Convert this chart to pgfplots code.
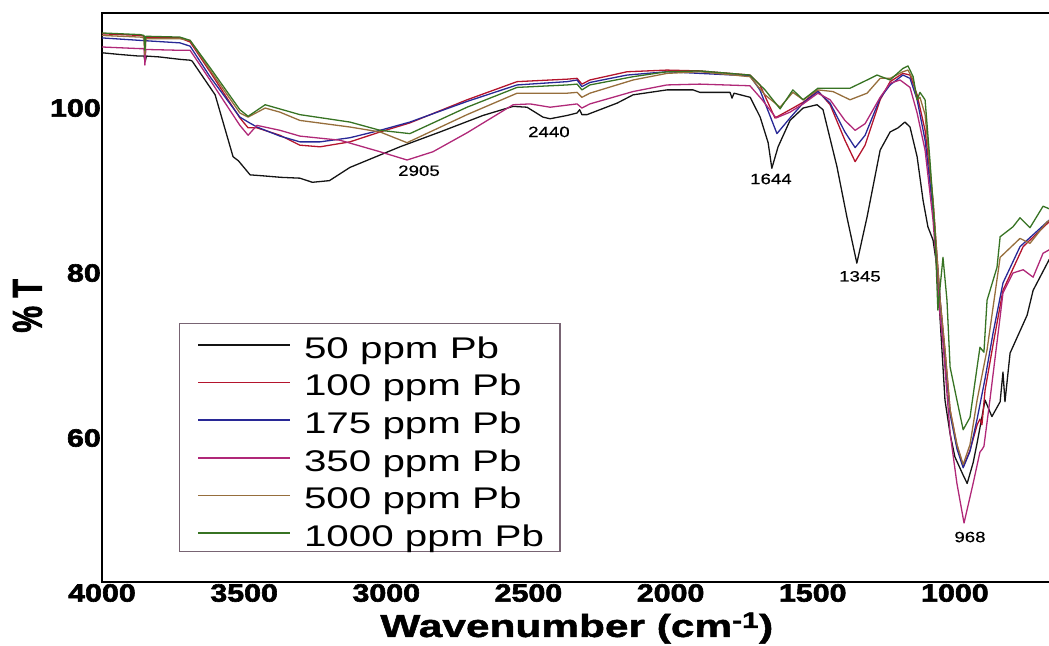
\documentclass[border=0pt]{standalone}
\usepackage{fontspec}
\setmainfont{Liberation Sans}
\newfontfamily\tickfont[FakeStretch=1.22, BoldFeatures={FakeBold=2.5}]{Liberation Sans}
\newfontfamily\legfont[FakeStretch=1.35]{Liberation Sans}
\newfontfamily\xlabfont[FakeStretch=1.33, BoldFeatures={FakeBold=1.5}]{Liberation Sans}
\newfontfamily\ylabfont[FakeStretch=0.72, BoldFeatures={FakeBold=1.5}]{Liberation Sans}
\newfontfamily\annfont[FakeStretch=1.25, FakeBold=0.4]{Liberation Sans}
\usepackage{pgfplots}
\pgfplotsset{compat=1.18}
\definecolor{cblack}{RGB}{20,20,20}
\definecolor{cred}{RGB}{180,20,45}
\definecolor{cblue}{RGB}{40,40,150}
\definecolor{cmag}{RGB}{176,40,120}
\definecolor{cbrown}{RGB}{150,110,60}
\definecolor{cgreen}{RGB}{55,115,35}
\definecolor{legbox}{RGB}{120,100,115}
\begin{document}
\begin{tikzpicture}
\path[use as bounding box] (0,0) rectangle (1049bp,646bp);
\begin{axis}[
  at={(102bp,64bp)}, anchor=south west,
  scale only axis, width=949.6bp, height=569.25bp,
  x dir=reverse, xmin=660, xmax=4000, ymin=42.55, ymax=111.55,
  xtick={1000,1500,2000,2500,3000,3500,4000},
  ytick={60,80,100},
  major tick length=0pt, minor tick num=0,
  axis line style={line width=2.2bp, black},
  ticklabel style={/pgf/number format/assume math mode=true, /pgf/number format/1000 sep={}},
  xticklabel style={font=\fontsize{25}{28}\tickfont\bfseries, anchor=north, inner sep=0pt, yshift=-2bp},
  yticklabel style={font=\fontsize{25}{28}\tickfont\bfseries, anchor=east, inner sep=0pt, xshift=-1bp},
  xlabel={Wavenumber (cm\textsuperscript{-1})},
  xlabel style={font=\fontsize{32}{36}\xlabfont\bfseries, at={(axis description cs:0.5,-0.081)}, anchor=center},
  ylabel={\% T},
  ylabel style={font=\fontsize{42}{46}\ylabfont\bfseries, at={(axis description cs:-0.0785,0.485)}, anchor=center, rotate=0},
  legend cell align=left,
  legend image code/.code={\path (0bp,0bp); \draw[#1, line width=1.5bp] (2bp,-0.14em) -- (94bp,-0.14em);},
  legend style={at={(axis description cs:0.0811,0.455)}, anchor=north west,
    draw=legbox, line width=1.3bp, inner xsep=16bp, inner ysep=1.2bp,
    font=\fontsize{30}{34}\legfont, column sep=13bp, row sep=0pt,
    nodes={inner sep=0pt, text height=33.5bp, text depth=4.1bp}},
  every axis plot/.append style={line width=1.3bp, line join=round},
]
% 50 ppm Pb
\addplot[cblack] coordinates {
(4000,106.7)(3940,106.5)(3870,106.3)(3852,106.3)(3848,105.6)(3844,106.3)(3800,106.2)(3725,105.9)(3690,105.8)(3683,105.7)
(3602,101.6)(3539,94.1)(3520,93.6)(3479,91.9)(3440,91.8)(3370,91.6)(3304,91.5)(3260,91.0)(3200,91.2)(3128,92.8)
(2952,95.3)(2811,97.1)(2660,99.1)(2554,100.2)(2505,100.1)(2449,98.9)(2424,98.7)(2364,99.1)(2329,99.4)(2320,99.8)(2312,99.2)
(2294,99.2)(2188,100.6)(2132,101.6)(2013,102.2)(1921,102.2)(1897,101.9)(1791,101.9)(1784,101.2)(1777,101.8)(1720,101.3)
(1685,98.9)(1657,95.8)(1644,92.7)(1622,95.3)(1580,98.5)(1534,100.0)(1485,100.4)(1464,99.8)(1415,92.9)(1380,86.8)
(1345,81.2)(1309,86.8)(1263,94.9)(1228,97.1)(1200,97.6)(1176,98.3)(1158,97.7)(1133,94.1)(1112,88.8)(1095,85.6)
(1077,84.0)(1063,80.7)(1052,74.3)(1042,68.6)(1035,64.6)(1017,60.5)(1000,57.7)(971,55.5)(957,54.5)(936,57.0)
(922,59.4)(894,64.6)(870,62.6)(841,64.4)(831,68.0)(824,64.4)(806,70.3)(746,74.9)(725,77.9)(669,81.6)(650,82.5)
};
\addlegendentry{50 ppm Pb}
% 100 ppm Pb
\addplot[cred] coordinates {
(4000,109.0)(3866,108.8)(3852,108.7)(3849,105.8)(3846,108.6)(3726,108.5)(3690,108.0)(3620,104.4)(3515,98.8)(3486,97.6)
(3455,97.6)(3374,96.7)(3304,95.5)(3233,95.3)(3128,95.9)(3022,97.1)(2917,98.2)(2716,101.0)(2540,103.2)(2364,103.5)
(2329,103.6)(2312,102.9)(2284,103.4)(2153,104.4)(2013,104.6)(1897,104.5)(1721,104.0)(1686,102.8)(1633,98.8)(1580,99.8)
(1534,100.7)(1482,102.1)(1439,100.4)(1387,96.1)(1351,93.5)(1316,95.5)(1263,101.0)(1228,103.2)(1183,104.2)(1158,104.0)
(1133,101.6)(1105,97.3)(1077,88.8)(1052,76.7)(1035,70.7)(1017,63.4)(993,59.2)(971,56.5)(947,58.5)(922,61.6)
(912,62.3)(905,61.6)(894,65.8)(866,71.3)(831,77.9)(760,83.2)(669,86.2)(650,86.6)
};
\addlegendentry{100 ppm Pb}
% 175 ppm Pb
\addplot[cblue] coordinates {
(4000,108.5)(3866,108.2)(3726,107.9)(3690,107.5)(3620,103.8)(3515,98.9)(3486,98.3)(3455,97.7)(3374,96.6)(3304,95.9)
(3233,95.9)(3128,96.4)(3022,97.3)(2917,98.3)(2716,100.8)(2540,102.8)(2364,103.2)(2329,103.4)(2312,102.6)(2284,103.1)
(2153,104.0)(2013,104.4)(1897,104.2)(1721,103.9)(1686,102.2)(1626,96.9)(1580,98.8)(1534,100.6)(1482,102.0)(1439,100.6)
(1387,97.1)(1351,95.2)(1316,96.7)(1263,101.2)(1228,102.8)(1183,104.0)(1158,103.6)(1133,101.0)(1105,96.1)(1077,87.6)
(1052,76.7)(1035,69.5)(1017,62.9)(993,58.7)(971,56.4)(947,58.4)(922,62.3)(894,67.2)(866,72.7)(831,78.8)(771,83.2)(669,86.4)(650,86.8)
};
\addlegendentry{175 ppm Pb}
% 350 ppm Pb
\addplot[cmag] coordinates {
(4000,107.4)(3866,107.2)(3852,107.2)(3849,105.2)(3846,107.1)(3726,107.0)(3690,107.0)(3620,103.4)(3515,97.9)(3486,96.7)
(3455,97.9)(3374,97.3)(3304,96.6)(3163,96.1)(3022,94.7)(2927,93.7)(2836,94.7)(2716,97.0)(2554,100.4)(2494,100.5)
(2424,100.1)(2329,100.5)(2312,100.0)(2284,100.5)(2132,102.0)(2013,102.8)(1897,102.9)(1721,102.7)(1678,101.0)(1629,98.8)
(1580,99.5)(1534,100.5)(1482,101.8)(1439,101.0)(1387,98.5)(1351,97.3)(1316,98.1)(1263,101.3)(1228,103.0)(1193,103.4)
(1158,102.5)(1133,99.4)(1105,94.9)(1077,86.4)(1052,74.7)(1042,71.5)(1017,60.6)(993,54.5)(968,49.7)(936,54.5)
(912,58.3)(905,58.6)(898,59.0)(877,64.6)(841,74.7)(831,77.6)(796,80.0)(760,80.4)(725,79.5)(690,82.4)(669,82.8)(650,83.2)
};
\addlegendentry{350 ppm Pb}
% 500 ppm Pb
\addplot[cbrown] coordinates {
(4000,108.8)(3866,108.6)(3852,108.5)(3849,106.5)(3846,108.4)(3726,108.4)(3690,108.2)(3620,104.6)(3515,99.4)(3486,98.9)
(3426,100.0)(3374,99.5)(3304,98.5)(3128,97.7)(3022,97.1)(2927,95.8)(2716,99.2)(2540,101.8)(2364,101.8)(2329,101.9)
(2312,101.3)(2284,101.8)(2132,103.4)(2013,104.2)(1897,104.4)(1721,103.8)(1668,101.6)(1615,100.1)(1570,101.9)(1534,101.0)
(1482,102.2)(1429,102.0)(1369,101.0)(1309,101.8)(1263,103.6)(1228,103.6)(1183,104.4)(1165,104.6)(1147,103.4)(1133,101.0)
(1123,101.3)(1105,99.2)(1077,88.8)(1052,76.7)(1035,70.7)(1017,63.4)(993,59.2)(971,56.8)(947,59.2)(922,64.6)
(887,70.7)(841,81.9)(771,84.2)(736,83.6)(676,86.2)(660,86.5)
};
\addlegendentry{500 ppm Pb}
% 1000 ppm Pb
\addplot[cgreen] coordinates {
(4000,109.1)(3866,108.9)(3852,108.8)(3849,107.0)(3846,108.7)(3726,108.6)(3690,108.2)(3620,104.9)(3515,99.8)(3486,99.0)
(3426,100.4)(3304,99.2)(3128,98.3)(3022,97.3)(2917,96.9)(2716,100.1)(2540,102.5)(2364,102.8)(2329,102.9)(2312,102.2)
(2284,102.8)(2132,103.8)(2013,104.4)(1897,104.5)(1721,104.0)(1668,102.2)(1615,99.9)(1570,102.2)(1534,101.0)(1482,102.4)
(1429,102.4)(1369,102.4)(1309,103.4)(1274,104.0)(1228,103.4)(1183,104.8)(1165,105.1)(1147,103.8)(1133,101.0)(1123,101.9)
(1105,101.0)(1088,93.7)(1070,84.9)(1060,75.5)(1042,81.9)(1028,76.7)(1017,68.6)(993,64.6)(971,61.0)(947,62.5)
(922,68.6)(912,71.0)(898,70.4)(887,76.7)(852,80.7)(841,84.4)(796,85.6)(771,86.7)(736,85.5)(690,88.1)(669,87.8)(650,88.0)
};
\addlegendentry{1000 ppm Pb}
\node[font=\fontsize{15}{17}\annfont] at (axis cs:2885,92.4) {2905};
\node[font=\fontsize{15}{17}\annfont] at (axis cs:2428,97.1) {2440};
\node[font=\fontsize{15}{17}\annfont] at (axis cs:1647,91.4) {1644};
\node[font=\fontsize{15}{17}\annfont] at (axis cs:1334,79.6) {1345};
\node[font=\fontsize{15}{17}\annfont] at (axis cs:947,48.0) {968};
\end{axis}
\end{tikzpicture}
\end{document}
